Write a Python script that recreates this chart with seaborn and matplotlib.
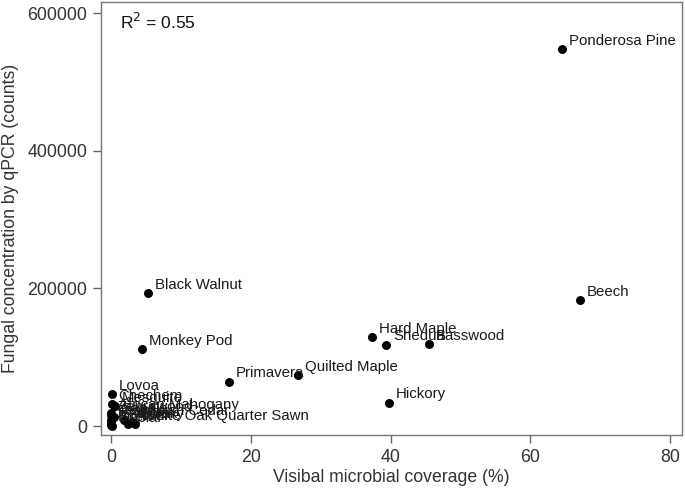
import matplotlib
matplotlib.use("Agg")
import matplotlib.pyplot as plt
import matplotlib.ticker as mticker
import seaborn as sns
import pandas as pd

# wood species, coverage (%) and qPCR counts
species = ["Ponderosa Pine", "Beech", "Black Walnut", "Hard Maple", "Shedua",
           "Basswood", "Monkey Pod", "Quilted Maple", "Primavera", "Hickory",
           "Lovoa", "Chechem", "Mesquite", "African Mahogany", "Zebrawood",
           "Sapele", "Teak", "Spanish Cedar", "Cherry", "Red Oak",
           "White Oak Quarter Sawn", "Birch", "Alder", "Poplar"]
coverage = [64.6, 67.1, 5.3, 37.4, 39.4,
            45.5, 4.4, 26.8, 16.9, 39.8,
            0.1, 0.1, 0.6, 0.0, 0.0,
            0.5, 0.0, 1.8, 3.0, 0.0,
            3.4, 0.0, 2.5, 0.2]
counts = [548000, 183000, 193000, 129000, 118500,
          119000, 111500, 74000, 64500, 34000,
          46500, 32000, 29000, 19000, 16000,
          13000, 9000, 9000, 6000, 5000,
          3000, 1500, 2500, 0]

r2_text = "R$^2$ = 0.55"

df = pd.DataFrame({"species": species, "coverage": coverage, "counts": counts})

sns.set_style("white")
plt.rcParams["font.family"] = ["Liberation Sans", "DejaVu Sans"]

fig = plt.figure(figsize=(6.85, 4.91), dpi=100)
ax = fig.add_axes([0.1474, 0.114, 0.8482, 0.881])

sns.scatterplot(data=df, x="coverage", y="counts", ax=ax, color="black",
                s=42, edgecolor="black", linewidth=0, zorder=3)

for _, row in df.iterrows():
    ax.annotate(row["species"], (row["coverage"], row["counts"]),
                xytext=(5, 6), textcoords="offset points",
                ha="left", va="center", fontsize=10.8, color="#1a1a1a")

ax.text(0.032, 0.955, r2_text, transform=ax.transAxes, fontsize=12.5,
        color="#111111", ha="left", va="center")

ax.set_xlim(-1.43, 81.7)
ax.set_ylim(-13100, 616000)
ax.set_xticks([0, 20, 40, 60, 80])
ax.set_yticks([0, 200000, 400000, 600000])
ax.yaxis.set_major_formatter(mticker.FuncFormatter(lambda v, p: f"{int(v)}"))

ax.set_xlabel("Visibal microbial coverage (%)", fontsize=12.7, color="#333333",
              labelpad=2)
ax.set_ylabel("Fungal concentration by qPCR (counts)", fontsize=12.7,
              color="#333333", labelpad=6)

ax.tick_params(axis="both", direction="out", length=6, width=1,
               color="#666666", labelcolor="#333333", labelsize=12.8, pad=4,
               bottom=True, left=True)
for sp in ax.spines.values():
    sp.set_color("#777777")
    sp.set_linewidth(1)

fig.savefig("out.png", dpi=100)
